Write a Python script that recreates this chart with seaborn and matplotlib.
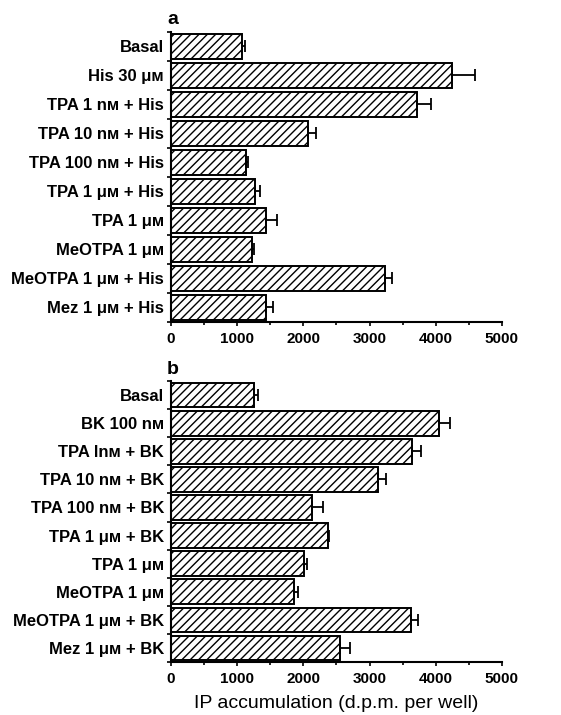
import numpy as np
import pandas as pd
import seaborn as sns
from matplotlib import pyplot as plt
from matplotlib.ticker import MultipleLocator

# panel a: histamine
labels_a = ["Basal", "His 30 μᴍ", "TPA 1 nᴍ + His", "TPA 10 nᴍ + His", "TPA 100 nᴍ + His",
            "TPA 1 μᴍ + His", "TPA 1 μᴍ", "MeOTPA 1 μᴍ", "MeOTPA 1 μᴍ + His", "Mez 1 μᴍ + His"]
mean_a = [1080, 4250, 3715, 2065, 1140, 1275, 1430, 1230, 3235, 1440]
sem_a = [35, 340, 220, 120, 20, 70, 165, 30, 100, 105]

# panel b: bradykinin
labels_b = ["Basal", "BK 100 nᴍ", "TPA lnᴍ + BK", "TPA 10 nᴍ + BK", "TPA 100 nᴍ + BK",
            "TPA 1 μᴍ + BK", "TPA 1 μᴍ", "MeOTPA 1 μᴍ", "MeOTPA 1 μᴍ + BK", "Mez 1 μᴍ + BK"]
mean_b = [1260, 4050, 3635, 3130, 2125, 2365, 2015, 1855, 3620, 2555]
sem_b = [50, 165, 135, 125, 165, 25, 35, 70, 115, 150]

sns.set_style("ticks")
fam = ["Liberation Sans", "DejaVu Sans"]
plt.rcParams["font.family"] = fam
plt.rcParams["text.color"] = "black"
plt.rcParams["xtick.color"] = "black"
plt.rcParams["ytick.color"] = "black"
plt.rcParams["axes.labelcolor"] = "black"
plt.rcParams["axes.edgecolor"] = "black"
plt.rcParams["hatch.linewidth"] = 1.0

fig = plt.figure(figsize=(5.61, 7.15), dpi=100)
ax_a = fig.add_axes([0.3048, 0.5497, 0.590, 0.4056])
ax_b = fig.add_axes([0.3048, 0.0741, 0.590, 0.3930])


def draw_panel(ax, labels, means, sems, letter):
    df = pd.DataFrame({"cond": labels, "val": means})
    sns.barplot(data=df, y="cond", x="val", orient="h", ax=ax, color="white",
                edgecolor="black", linewidth=1.4, width=0.88, errorbar=None, hatch="////")
    ax.errorbar(means, np.arange(len(labels)), xerr=[np.zeros(len(sems)), sems],
                fmt="none", ecolor="black", elinewidth=1.3, capsize=4, capthick=1.3)
    ax.set_xlim(0, 5000)
    ax.set_ylim(len(labels) - 0.5, -0.5)
    ax.xaxis.set_major_locator(MultipleLocator(1000))
    ax.xaxis.set_minor_locator(MultipleLocator(500))
    ax.set_yticks(np.arange(len(labels)))
    ax.set_yticklabels(labels)
    ax.set_yticks(np.arange(len(labels) + 1) - 0.5, minor=True)
    ax.tick_params(axis="y", which="major", length=0, pad=5)
    ax.tick_params(axis="y", which="minor", length=3, width=1.2)
    ax.tick_params(axis="x", which="major", length=3, width=1.2, pad=4)
    ax.tick_params(axis="x", which="minor", length=2, width=1.2)
    for t in ax.get_xticklabels():
        t.set_fontsize(11)
        t.set_fontweight("bold")
    for t in ax.get_yticklabels():
        t.set_fontsize(12)
        t.set_fontweight("bold")
    for s in ["left", "bottom"]:
        ax.spines[s].set_linewidth(1.5)
    sns.despine(ax=ax)
    ax.set_ylabel("")
    ax.set_xlabel("")
    ax.text(-0.012, 1.012, letter, transform=ax.transAxes, fontsize=14,
            fontweight="bold", ha="left", va="bottom")


draw_panel(ax_a, labels_a, mean_a, sem_a, "a")
draw_panel(ax_b, labels_b, mean_b, sem_b, "b")
ax_b.set_xlabel("IP accumulation (d.p.m. per well)", fontsize=14, labelpad=7)

fig.savefig("out.png", dpi=100)
